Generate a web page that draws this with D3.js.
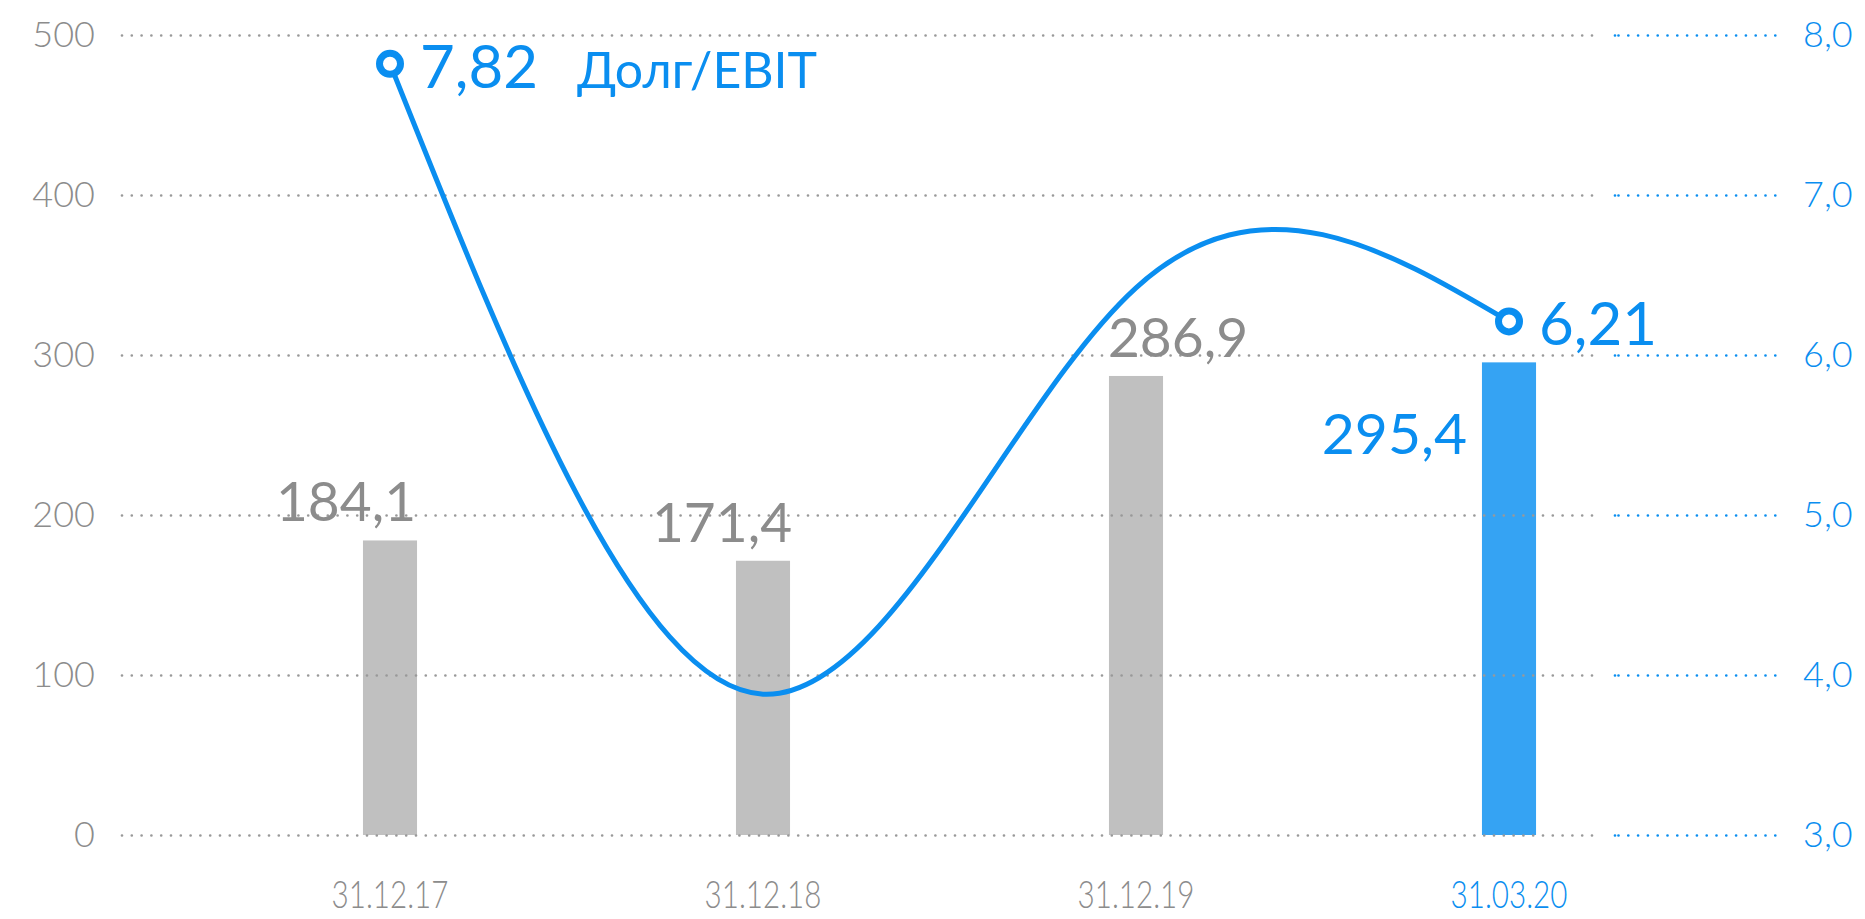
<!DOCTYPE html>
<html>
<head>
<meta charset="utf-8">
<script src="https://cdn.jsdelivr.net/npm/d3@7"></script>
<style>
  body { margin: 0; background: #fff; }
  text { font-family: Lato, "Open Sans", sans-serif; }
</style>
</head>
<body>
<svg id="chart" width="1865" height="919"></svg>
<script>
(function() {

	// values
	const dates = ["31.12.17", "31.12.18", "31.12.19", "31.03.20"];
	const debt = [184.1, 171.4, 286.9, 295.4];        // bars, left axis
	const debtEbit = [7.82, 3.88, 6.42, 6.21];        // line, right axis
	const leftTicks = [0, 100, 200, 300, 400, 500];
	const rightTicks = [3, 4, 5, 6, 7, 8];
	const lineName = "Долг/EBIT";

	// the bar labels are nudged sideways so they dodge the line
	const barLabelShift = [-44, -41, 42, 0];

	const grey = "#8c8c8c";
	const blue = "#0a8ef0";

	const svg = d3.select("#chart");

	const ru = d3.formatLocale({decimal: ",", thousands: " ", grouping: [3], currency: ["", ""]});
	const f1 = ru.format(".1f");
	const f2 = ru.format(".2f");

	const x = d3.scaleBand()
		.domain(dates)
		.range([203.5, 1695.5])
		.paddingInner(0.855)
		.paddingOuter(0.4275);
	const y = d3.scaleLinear().domain([0, 500]).range([835, 35]);
	const y2 = d3.scaleLinear().domain([3, 8]).range([835, 35]);

	const cx = d => x(d) + x.bandwidth() / 2;
	const last = dates.length - 1;

	// bars go under the dotted grid
	svg.append("g")
		.selectAll("rect")
		.data(debt)
		.join("rect")
		.attr("x", (d, i) => x(dates[i]))
		.attr("width", x.bandwidth())
		.attr("y", d => y(d))
		.attr("height", d => y(0) - y(d))
		.attr("fill", (d, i) => i == last ? "#35a3f3" : "#c0c0c0");

	// left axis + grey grid
	const left = svg.append("g")
		.attr("transform", "translate(122,0)")
		.call(d3.axisLeft(y).tickValues(leftTicks).tickSize(-1471).tickPadding(27).tickFormat(d3.format("d")));
	left.select(".domain").remove();
	left.attr("font-family", null).attr("font-size", 36);
	left.selectAll("line")
		.attr("stroke", "#999")
		.attr("stroke-width", 2.7)
		.attr("stroke-linecap", "round")
		.attr("stroke-dasharray", "0 9.8");
	left.selectAll("text").attr("fill", grey).attr("font-weight", 300);

	// right axis + short blue grid
	const right = svg.append("g")
		.attr("transform", "translate(1615,0)")
		.call(d3.axisRight(y2).tickValues(rightTicks).tickSize(165).tickPadding(23).tickFormat(f1));
	right.select(".domain").remove();
	right.attr("font-family", null).attr("font-size", 36);
	right.selectAll("line")
		.attr("stroke", blue)
		.attr("stroke-width", 2.7)
		.attr("stroke-linecap", "round")
		.attr("stroke-dasharray", "0 3.5 0 9.8 0 9.8 0 9.8 0 9.8 0 9.8 0 9.8 0 9.8 0 9.8 0 9.8 0 9.8 0 9.8 0 9.8 0 9.8 0 9.8 0 9.8 0 9.8 0 100");
	right.selectAll("text").attr("fill", blue).attr("font-weight", 300);

	// date labels, narrow
	svg.append("g")
		.selectAll("text")
		.data(dates)
		.join("text")
		.attr("transform", d => "translate(" + cx(d) + ",908) scale(0.8,1)")
		.attr("text-anchor", "middle")
		.attr("font-size", 37)
		.attr("font-weight", 300)
		.attr("fill", (d, i) => i == last ? blue : grey)
		.text(d => d);

	// bar values
	svg.append("g")
		.selectAll("text")
		.data(debt)
		.join("text")
		.attr("x", (d, i) => i == last ? x(dates[i]) - 15 : cx(dates[i]) + barLabelShift[i])
		.attr("y", (d, i) => i == last ? y(d) + 92 : y(d) - 19)
		.attr("text-anchor", (d, i) => i == last ? "end" : "middle")
		.attr("font-size", (d, i) => i == last ? 57 : 55)
		.attr("fill", (d, i) => i == last ? blue : grey)
		.text(d => f1(d));

	// Долг/EBIT line
	const line = d3.line()
		.x((d, i) => cx(dates[i]))
		.y(d => y2(d))
		.curve(d3.curveNatural);

	svg.append("path")
		.datum(debtEbit)
		.attr("d", line)
		.attr("fill", "none")
		.attr("stroke", blue)
		.attr("stroke-width", 5);

	const ends = [0, last];
	svg.append("g")
		.selectAll("circle")
		.data(ends)
		.join("circle")
		.attr("cx", i => cx(dates[i]))
		.attr("cy", i => y2(debtEbit[i]))
		.attr("r", 10.5)
		.attr("fill", "#fff")
		.attr("stroke", blue)
		.attr("stroke-width", 7);

	svg.append("g")
		.selectAll("text")
		.data(ends)
		.join("text")
		.attr("x", i => cx(dates[i]) + 30)
		.attr("y", i => y2(debtEbit[i]) + 24)
		.attr("font-size", 60)
		.attr("fill", blue)
		.text(i => f2(debtEbit[i]));

	svg.append("text")
		.attr("x", cx(dates[0]) + 187)
		.attr("y", y2(debtEbit[0]) + 24)
		.attr("font-size", 50)
		.attr("fill", blue)
		.text(lineName);

})();
</script>
</body>
</html>
